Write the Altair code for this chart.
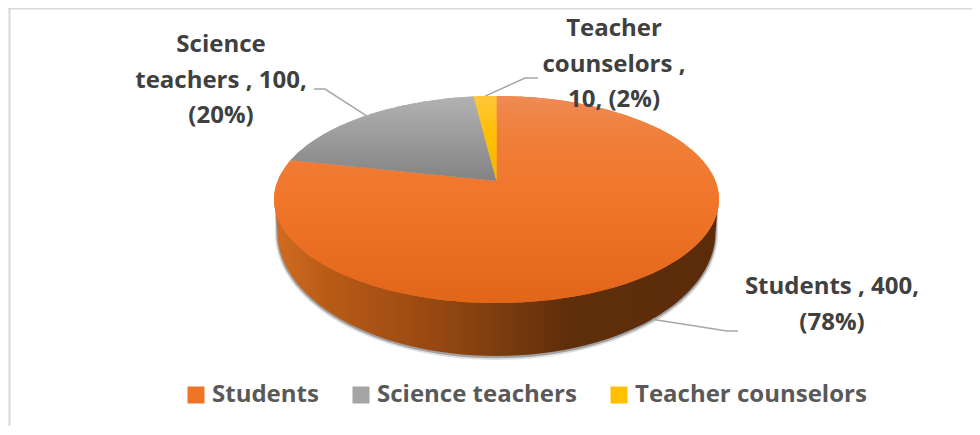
import math
import altair as alt

categories = ["Students", "Science teachers", "Teacher counselors"]
values = [400, 100, 10]
label_lines = [
    "{c} , {v},\n({p}%)",
    "Science\nteachers , {v},\n({p}%)",
    "Teacher\ncounselors ,\n{v}, ({p}%)",
]
colors = ["#ee7526", "#a5a5a5", "#ffc000"]

W, H = 964, 418
FONT = "Open Sans"
TEXT_DARK = "#404040"

# Pie geometry in page pixels (Excel-like perspective view)
CX, APEX_Y = 496.5, 181.0
A, B, K = 218.9, 100.2, 0.1787
WALL_CY, WALL_RX, WALL_RY = 232.0, 219.0, 124.0

total = sum(values)
shares = [v / total for v in values]


def project(deg):
    t = math.radians(deg)
    u, v = math.sin(t), math.cos(t)
    w = 1 + K * v
    return [CX + A * u / w, -(APEX_Y - B * v / w)]


def wedge(a0, a1):
    n = max(3, int((a1 - a0) / 1.5))
    pts = [[CX, -APEX_Y]] + [project(a0 + (a1 - a0) * i / n) for i in range(n + 1)]
    pts.append([CX, -APEX_Y])
    return pts


def feature(kind, coords, cat=None):
    return {"type": "Feature", "properties": {"category": cat},
            "geometry": {"type": kind, "coordinates": coords}}


def wall(grow=0.0, dy=0.0):
    pts = [[CX - 221.5, -202.0]]
    for i in range(0, 181, 3):
        t = math.radians(180 + i)
        pts.append([CX + (WALL_RX + grow) * math.cos(t),
                    -(WALL_CY + dy) + (WALL_RY + grow) * math.sin(t)])
    pts.append([CX + 221.5, -202.0])
    pts.append(pts[0])
    return pts


proj = alt.Projection(type="identity", scale=1, translate=[-8, -8], reflectY=True)


def shape(feats, **mark):
    return alt.Chart(alt.Data(values=feats)).mark_geoshape(**mark).project(**proj.to_dict())


def grad(stops, horizontal=False):
    return alt.Gradient(
        gradient="linear", x1=0, y1=0, x2=1 if horizontal else 0, y2=0 if horizontal else 1,
        stops=[alt.GradientStop(offset=o, color=c) for o, c in stops])


# slice angles, clockwise from the top
angles = []
cum = 0.0
for s in shares:
    angles.append((cum * 360, (cum + s) * 360))
    cum += s
feats = [feature("Polygon", [wedge(*a)], c) for a, c in zip(angles, categories)]

flat = shape(feats, strokeWidth=0).encode(
    color=alt.Color(
        "properties.category:N",
        scale=alt.Scale(domain=categories, range=colors),
        sort=categories,
        legend=alt.Legend(
            title=None, orient="none", legendX=176, legendY=375, direction="horizontal",
            columns=3, columnPadding=30, symbolType="square", symbolSize=289,
            symbolStrokeWidth=0, labelFont=FONT, labelFontWeight="bold", labelFontSize=24,
            labelColor="#595959", labelOffset=4, labelLimit=400, symbolOpacity=1,
        ),
    )
)

top_grads = [
    grad([(0, "#ee8b55"), (0.18, "#f07f3a"), (0.5, "#f0762a"), (1, "#e2661a")]),
    grad([(0, "#b2b2b2"), (1, "#838383")]),
    grad([(0, "#ffc63c"), (0.45, "#ffc000"), (1, "#f2b600")]),
]
tops = [shape([f], fill=g, strokeWidth=0) for f, g in zip(feats, top_grads)]

shadows = [
    shape([feature("Polygon", [wall(2.5, 1.5)])], fill="#555555", opacity=0.18, strokeWidth=0),
    shape([feature("Polygon", [wall(1.2, 1.0)])], fill="#555555", opacity=0.45, strokeWidth=0),
]
side = shape(
    [feature("Polygon", [wall()])],
    fill=grad([(0, "#d06c20"), (0.12, "#b85b17"), (0.33, "#9c4a12"), (0.485, "#7f3f0f"),
               (0.66, "#5f2e0b"), (1, "#5c2c0a")], horizontal=True),
    strokeWidth=0,
)


# leader lines, anchored at the middle of each slice
def leader(anchor, knee, end):
    return feature("LineString", [anchor, knee, end])


mids = [(a + b) / 2 for a, b in angles]
sci = project(mids[1])
tea = project(mids[2])
stu_x = 652.0
stu_y = WALL_CY + WALL_RY * math.sqrt(1 - ((stu_x - CX) / WALL_RX) ** 2)
lines = shape(
    [
        leader(sci, [325, -89], [314, -89]),
        leader(tea, [525, -78], [538, -78]),
        leader([stu_x, -stu_y], [727, -331], [738, -331]),
    ],
    filled=False, stroke="#a6a6a6", strokeWidth=1.5,
)

border = [
    alt.Chart(alt.Data(values=[{"k": 0}])).mark_rule(color="#d9d9d9", strokeWidth=2).encode(
        x=alt.value(1.5), y=alt.value(0), y2=alt.value(H)),
    alt.Chart(alt.Data(values=[{"k": 0}])).mark_rule(color="#d9d9d9", strokeWidth=1.5).encode(
        x=alt.value(0), x2=alt.value(W), y=alt.value(0.8)),
]


def pct(v):
    return round(100 * v / total)


label_pos = [(832 - 8, 287 - 8), (221 - 8, 45 - 8), (614 - 8, 29 - 8)]
texts = []
for c, v, tmpl, (x, y) in zip(categories, values, label_lines, label_pos):
    texts.append(
        alt.Chart(alt.Data(values=[{"t": tmpl.format(c=c, v=v, p=pct(v))}]))
        .mark_text(font=FONT, fontWeight="bold", fontSize=24, color=TEXT_DARK, align="center",
                   baseline="middle", lineBreak="\n", lineHeight=35.5)
        .encode(text="t:N", x=alt.value(x), y=alt.value(y))
    )

chart = alt.layer(*border, *shadows, side, flat, *tops, lines, *texts).properties(
    width=W, height=H, padding=0, autosize=alt.AutoSizeParams(type="none"), background="white"
).configure_view(strokeWidth=0)

chart.save("out.html", embed_options={"renderer": "svg", "actions": False})
